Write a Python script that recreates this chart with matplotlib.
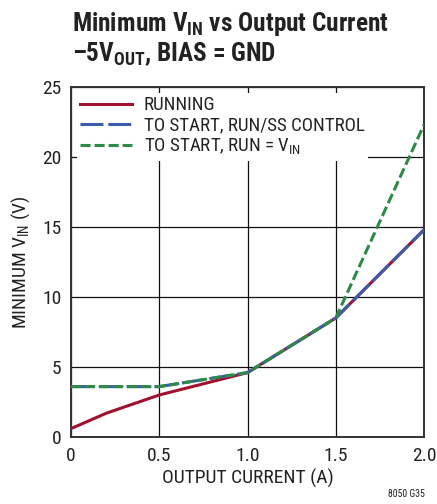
import matplotlib
matplotlib.use("Agg")
import matplotlib.pyplot as plt
from matplotlib.lines import Line2D

plt.rcParams['font.family'] = ['Roboto Condensed', 'DejaVu Sans']
plt.rcParams['mathtext.fontset'] = 'custom'
plt.rcParams['mathtext.rm'] = 'Roboto Condensed'
plt.rcParams['mathtext.bf'] = 'Roboto Condensed:bold'

# Output current (A)
current = [0.0, 0.2, 0.5, 1.0, 1.5, 2.0]
running = [0.6, 1.7, 3.0, 4.6, 8.5, 14.8]

current_start = [0.0, 0.5, 1.0, 1.5, 2.0]
start_runss = [3.6, 3.6, 4.6, 8.5, 14.8]
start_run_vin = [3.6, 3.6, 4.6, 8.5, 22.3]

x_ticks = [0, 0.5, 1.0, 1.5, 2.0]
x_tick_labels = ["0", "0.5", "1.0", "1.5", "2.0"]
y_ticks = [0, 5, 10, 15, 20, 25]

red = "#A3102E"
blue = "#3D5BA9"
green = "#2E8B47"
ink = "#222222"
lw = 2.2
blue_dash = (7.5, 1.6)
green_dash = (3.3, 1.3)

fig = plt.figure(figsize=(4.37, 5.04), dpi=100)
ax = fig.add_axes([71 / 437, 1 - 437 / 504, (424 - 71) / 437, (437 - 87) / 504])

ax.plot(current, running, color=red, lw=lw, solid_capstyle='butt', zorder=3)
ax.plot(current_start, start_runss, color=blue, lw=lw, dashes=blue_dash, zorder=4)
ax.plot(current_start, start_run_vin, color=green, lw=lw, dashes=green_dash, zorder=5)

ax.set_xlim(0, 2.0)
ax.set_ylim(0, 25)
ax.set_xticks(x_ticks)
ax.set_xticklabels(x_tick_labels)
ax.set_yticks(y_ticks)
ax.tick_params(length=0, labelsize=14, colors=ink, pad=7)
ax.grid(True, color="#111111", lw=0.9, zorder=1)
ax.set_axisbelow(True)
for s in ax.spines.values():
    s.set_linewidth(1.4)
    s.set_color("#333333")

ax.set_xlabel("OUTPUT CURRENT (A)", fontsize=14, color=ink, labelpad=3)
ax.set_ylabel(r"MINIMUM V$_{\mathregular{IN}}$ (V)", fontsize=14, color=ink, labelpad=7)

handles = [
    Line2D([], [], color=red, lw=lw),
    Line2D([], [], color=blue, lw=lw, dashes=blue_dash),
    Line2D([], [], color=green, lw=lw, dashes=green_dash),
]
labels = ["RUNNING", "TO START, RUN/SS CONTROL", r"TO START, RUN = V$_{\mathregular{IN}}$"]
leg = ax.legend(handles, labels, loc="upper left", fontsize=13.6, frameon=True,
                fancybox=False, edgecolor="none", facecolor="white", framealpha=1,
                handlelength=2.75, handletextpad=0.6, labelspacing=0.12,
                borderaxespad=0.3, borderpad=0.2)
leg.set_zorder(6)
for t in leg.get_texts():
    t.set_color(ink)

fig.text(72 / 437, 1 - 31 / 504, r"Minimum V$_{\mathbf{IN}}$ vs Output Current",
         fontsize=18.2, fontweight="bold", color=ink)
fig.text(72 / 437, 1 - 61 / 504, r"–5V$_{\mathbf{OUT}}$, BIAS = GND",
         fontsize=18.2, fontweight="bold", color=ink)
fig.text(425 / 437, 1 - 497 / 504, "8050 G35", fontsize=7, ha="right", color=ink)

fig.savefig("out.png", dpi=100)
